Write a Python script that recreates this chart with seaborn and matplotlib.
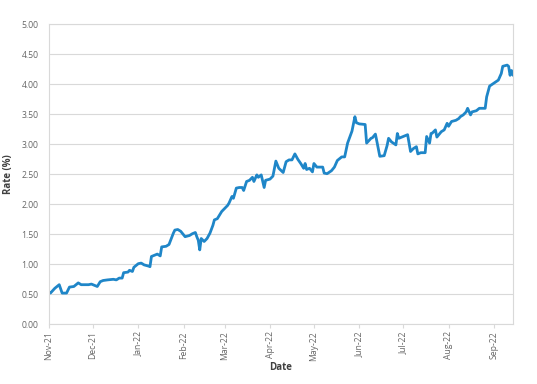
import pandas as pd
import matplotlib
matplotlib.use('Agg')
import matplotlib.pyplot as plt
import matplotlib.dates as mdates
import seaborn as sns

# Rate readings taken off the reference chart
dates = [
    '2021-11-01', '2021-11-02', '2021-11-05', '2021-11-08', '2021-11-10', '2021-11-13',
    '2021-11-15', '2021-11-18', '2021-11-21', '2021-11-23', '2021-11-28', '2021-11-30',
    '2021-12-02', '2021-12-04', '2021-12-06', '2021-12-08', '2021-12-11', '2021-12-15',
    '2021-12-17', '2021-12-19', '2021-12-21', '2021-12-22', '2021-12-25', '2021-12-26',
    '2021-12-28', '2021-12-29', '2022-01-01', '2022-01-03', '2022-01-05', '2022-01-08',
    '2022-01-09', '2022-01-10', '2022-01-12', '2022-01-14', '2022-01-16', '2022-01-17',
    '2022-01-20', '2022-01-22', '2022-01-25', '2022-01-26', '2022-01-28', '2022-01-30',
    '2022-02-02', '2022-02-05', '2022-02-07', '2022-02-09', '2022-02-10', '2022-02-11',
    '2022-02-12', '2022-02-13', '2022-02-15', '2022-02-17', '2022-02-19', '2022-02-21',
    '2022-02-22', '2022-02-24', '2022-02-27', '2022-03-01', '2022-03-03', '2022-03-04',
    '2022-03-06', '2022-03-07', '2022-03-09', '2022-03-11', '2022-03-13', '2022-03-14',
    '2022-03-16', '2022-03-18', '2022-03-20', '2022-03-21', '2022-03-23', '2022-03-24',
    '2022-03-26', '2022-03-28', '2022-03-29', '2022-04-01', '2022-04-03', '2022-04-04',
    '2022-04-05', '2022-04-07', '2022-04-10', '2022-04-12', '2022-04-14', '2022-04-16',
    '2022-04-18', '2022-04-20', '2022-04-22', '2022-04-24', '2022-04-25', '2022-04-26',
    '2022-04-28', '2022-04-30', '2022-05-01', '2022-05-03', '2022-05-05', '2022-05-07',
    '2022-05-08', '2022-05-10', '2022-05-13', '2022-05-15', '2022-05-17', '2022-05-20',
    '2022-05-22', '2022-05-24', '2022-05-27', '2022-05-29', '2022-05-30', '2022-06-01',
    '2022-06-05', '2022-06-06', '2022-06-09', '2022-06-10', '2022-06-12', '2022-06-13',
    '2022-06-15', '2022-06-18', '2022-06-20', '2022-06-21', '2022-06-23', '2022-06-26',
    '2022-06-27', '2022-06-28', '2022-07-01', '2022-07-04', '2022-07-06', '2022-07-08',
    '2022-07-10', '2022-07-11', '2022-07-13', '2022-07-16', '2022-07-17', '2022-07-19',
    '2022-07-20', '2022-07-21', '2022-07-23', '2022-07-24', '2022-07-27', '2022-07-29',
    '2022-07-31', '2022-08-01', '2022-08-03', '2022-08-06', '2022-08-08', '2022-08-09',
    '2022-08-11', '2022-08-13', '2022-08-14', '2022-08-16', '2022-08-17', '2022-08-20',
    '2022-08-22', '2022-08-26', '2022-08-27', '2022-08-29', '2022-09-01', '2022-09-04',
    '2022-09-06', '2022-09-07', '2022-09-10', '2022-09-11', '2022-09-12', '2022-09-13',
    '2022-09-14',
]
rates = [
    0.54, 0.52, 0.60, 0.66, 0.52, 0.52,
    0.62, 0.63, 0.69, 0.66, 0.66, 0.67,
    0.65, 0.63, 0.71, 0.73, 0.74, 0.75,
    0.74, 0.77, 0.77, 0.86, 0.87, 0.90,
    0.88, 0.95, 1.01, 1.02, 0.99, 0.97,
    0.96, 1.13, 1.15, 1.17, 1.14, 1.29,
    1.30, 1.33, 1.52, 1.57, 1.58, 1.55,
    1.46, 1.48, 1.51, 1.53, 1.46, 1.40,
    1.24, 1.43, 1.38, 1.43, 1.52, 1.65,
    1.74, 1.76, 1.88, 1.93, 1.98, 2.02,
    2.13, 2.10, 2.27, 2.28, 2.28, 2.23,
    2.38, 2.40, 2.45, 2.38, 2.49, 2.45,
    2.49, 2.28, 2.40, 2.42, 2.47, 2.60,
    2.72, 2.60, 2.53, 2.71, 2.74, 2.74,
    2.84, 2.75, 2.68, 2.60, 2.68, 2.58,
    2.60, 2.54, 2.68, 2.62, 2.62, 2.62,
    2.52, 2.51, 2.56, 2.62, 2.73, 2.79,
    2.79, 3.02, 3.22, 3.46, 3.36, 3.34,
    3.33, 3.02, 3.10, 3.11, 3.17, 3.05,
    2.80, 2.81, 2.98, 3.10, 3.04, 2.99,
    3.18, 3.10, 3.13, 3.16, 2.88, 2.93,
    2.96, 2.84, 2.86, 2.86, 3.13, 3.02,
    3.18, 3.19, 3.24, 3.12, 3.21, 3.24,
    3.35, 3.30, 3.38, 3.40, 3.43, 3.46,
    3.49, 3.54, 3.60, 3.49, 3.54, 3.56,
    3.60, 3.60, 3.79, 3.97, 4.02, 4.07,
    4.18, 4.30, 4.32, 4.30, 4.15, 4.23,
    4.15,
]
y_ticks = [0.0, 0.5, 1.0, 1.5, 2.0, 2.5, 3.0, 3.5, 4.0, 4.5, 5.0]

df = pd.DataFrame({'Date': pd.to_datetime(dates), 'Rate': rates})

sns.set_style('white')
plt.rcParams['font.family'] = ['Open Sans', 'DejaVu Sans']

fig = plt.figure(figsize=(5.37, 3.84), dpi=100)
ax = fig.add_axes([0.0912, 0.1555, 0.8641, 0.7812])

sns.lineplot(data=df, x='Date', y='Rate', ax=ax, color='#1f86c8', linewidth=2.0)

grid_col = '#d9d9d9'
text_col = '#666666'

ax.set_ylim(0, 5)
ax.set_yticks(y_ticks)
ax.yaxis.set_major_formatter(plt.FuncFormatter(lambda v, p: f'{v:.2f}'))
ax.set_xlim(pd.Timestamp('2021-11-01'), pd.Timestamp('2022-09-14'))
ax.xaxis.set_major_locator(mdates.MonthLocator())
ax.xaxis.set_major_formatter(mdates.DateFormatter('%b-%y'))

ax.grid(axis='y', color=grid_col, linewidth=0.8)
ax.set_axisbelow(True)
for s in ax.spines.values():
    s.set_color(grid_col)
    s.set_linewidth(0.8)

ax.tick_params(axis='x', bottom=True, length=3, width=0.8, color=grid_col,
               labelsize=6.2, labelcolor=text_col, labelrotation=90, pad=2)
ax.tick_params(axis='y', left=False, labelsize=6.2, labelcolor=text_col, pad=4)

ax.set_xlabel('Date', fontsize=7, fontweight='bold', color='#404040', labelpad=1)
ax.set_ylabel('Rate (%)', fontsize=7, fontweight='bold', color='#404040', labelpad=5)

fig.savefig('out.png', dpi=100)
